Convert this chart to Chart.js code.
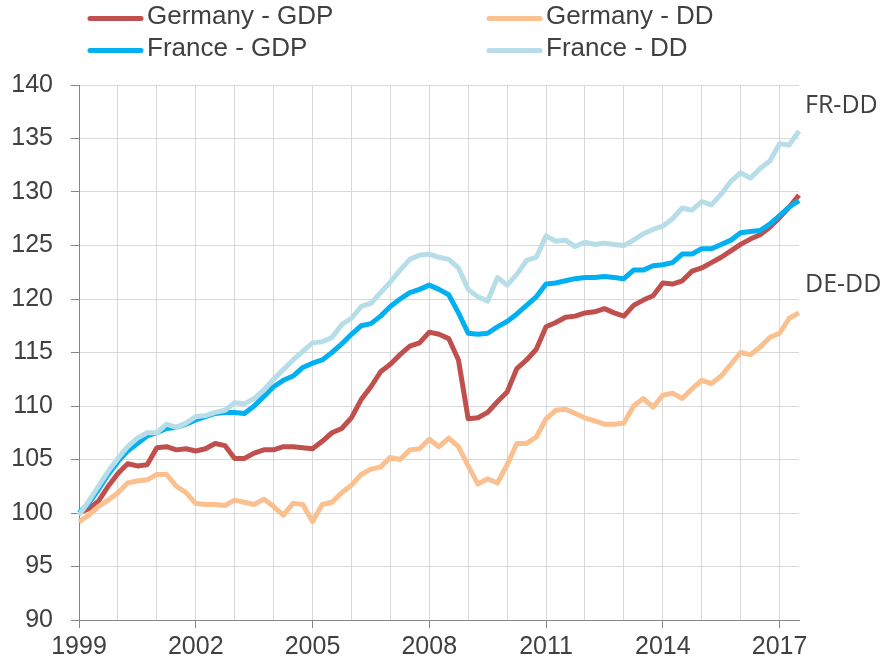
<!DOCTYPE html>
<html>
<head>
<meta charset="utf-8">
<script src="https://cdn.jsdelivr.net/npm/chart.js@4"></script>
<style>
  body { margin: 0; background: #fff; }
  canvas { display: block; }
</style>
</head>
<body>
<canvas id="chart" width="883" height="665"></canvas>
<script>
// quarterly index, 1999Q1 = 100
const quarters = [];
for (let y = 1999; y <= 2017; y++) {
  for (let q = 1; q <= 4; q++) {
    if (y === 2017 && q > 3) break;
    quarters.push(y + "Q" + q);
  }
}

const germanyGDP = [
  100.0, 100.4, 101.1, 102.5, 103.7, 104.6, 104.4, 104.5, 106.1, 106.2,
  105.9, 106.0, 105.8, 106.0, 106.5, 106.3, 105.1, 105.1, 105.6, 105.9,
  105.9, 106.2, 106.2, 106.1, 106.0, 106.7, 107.5, 107.9, 108.9, 110.6,
  111.8, 113.2, 113.9, 114.8, 115.6, 115.9, 116.9, 116.7, 116.3, 114.3,
  108.8, 108.9, 109.4, 110.4, 111.3, 113.5, 114.3, 115.3, 117.4, 117.8,
  118.3, 118.4, 118.7, 118.8, 119.1, 118.7, 118.4, 119.4, 119.9, 120.3,
  121.5, 121.4, 121.7, 122.6, 122.9, 123.4, 123.9, 124.5, 125.1, 125.6,
  126.0, 126.7, 127.6, 128.6, 129.7
];

const germanyDD = [
  99.2, 99.8, 100.6, 101.2, 101.9, 102.8, 103.0, 103.1, 103.6, 103.6,
  102.5, 101.9, 100.9, 100.8, 100.8, 100.7, 101.2, 101.0, 100.8, 101.3,
  100.6, 99.8, 100.9, 100.8, 99.2, 100.8, 101.0, 101.9, 102.6, 103.6,
  104.1, 104.3, 105.2, 105.0, 105.9, 106.0, 106.9, 106.2, 107.0, 106.2,
  104.4, 102.7, 103.2, 102.8, 104.5, 106.5, 106.5, 107.1, 108.8, 109.6,
  109.7, 109.3, 108.9, 108.6, 108.3, 108.3, 108.4, 110.0, 110.7, 109.9,
  111.0, 111.2, 110.7, 111.6, 112.4, 112.1, 112.8, 113.9, 115.0, 114.8,
  115.5, 116.4, 116.8, 118.2, 118.7
];

const franceGDP = [
  100.0, 100.9, 102.2, 103.6, 104.8, 105.8, 106.5, 107.2, 107.5, 107.9,
  108.0, 108.3, 108.7, 109.0, 109.3, 109.4, 109.4, 109.3, 110.0, 110.9,
  111.8, 112.4, 112.8, 113.6, 114.0, 114.3, 115.0, 115.8, 116.7, 117.5,
  117.7, 118.4, 119.3, 120.0, 120.6, 120.9, 121.3, 120.9, 120.4, 118.7,
  116.8, 116.7, 116.8, 117.4, 117.9, 118.6, 119.4, 120.2, 121.4, 121.5,
  121.7, 121.9, 122.0, 122.0, 122.1, 122.0, 121.9, 122.7, 122.7, 123.1,
  123.2, 123.4, 124.2, 124.2, 124.7, 124.7, 125.1, 125.5, 126.2, 126.3,
  126.4, 127.0, 127.8, 128.6, 129.2
];

const franceDD = [
  99.8, 101.1, 102.5, 103.9, 105.1, 106.2, 107.0, 107.5, 107.5, 108.3,
  108.0, 108.4, 109.0, 109.1, 109.4, 109.6, 110.3, 110.2, 110.7, 111.5,
  112.5, 113.4, 114.3, 115.1, 115.9, 116.0, 116.4, 117.6, 118.2, 119.3,
  119.6, 120.6, 121.6, 122.7, 123.7, 124.1, 124.2, 123.9, 123.7, 122.9,
  120.9, 120.2, 119.8, 122.0, 121.3, 122.3, 123.6, 123.9, 125.9, 125.4,
  125.5, 124.9, 125.3, 125.1, 125.2, 125.1, 125.0, 125.5, 126.1, 126.5,
  126.8, 127.5, 128.5, 128.3, 129.1, 128.8, 129.8, 131.0, 131.8, 131.3,
  132.2, 132.9, 134.5, 134.4, 135.7
];

// end-of-line labels and the index value their baseline sits at
const endLabels = ["FR-DD", "DE-DD"];
const endLabelValues = [137.4, 120.7];

const FONT = '"Liberation Sans", Arial, sans-serif';
const TEXT = "#404040";
const AXIS = "#868686";
const GRID = "#D9D9D9";

// two-column legend drawn on top of the chart
const legendPlugin = {
  id: "topLegend",
  afterDraw(chart) {
    const ctx = chart.ctx;
    const cols = [88, 487];
    const rows = [17, 49];
    ctx.save();
    ctx.font = "26px " + FONT;
    ctx.textBaseline = "middle";
    ctx.fillStyle = TEXT;
    chart.data.datasets.forEach((ds, i) => {
      const x = cols[i % 2];
      const y = rows[Math.floor(i / 2)];
      ctx.strokeStyle = ds.borderColor;
      ctx.lineWidth = 5;
      ctx.lineCap = "round";
      ctx.beginPath();
      ctx.moveTo(x + 2, y + 1.5);
      ctx.lineTo(x + 53, y + 1.5);
      ctx.stroke();
      ctx.fillText(ds.label, x + 59, y);
    });
    ctx.restore();
  }
};

const endLabelPlugin = {
  id: "endLabels",
  afterDraw(chart) {
    const ctx = chart.ctx;
    const yScale = chart.scales.y;
    ctx.save();
    ctx.font = '25px "Open Sans", sans-serif';
    ctx.textBaseline = "alphabetic";
    ctx.fillStyle = TEXT;
    endLabels.forEach((t, i) => {
      ctx.fillText(t, chart.chartArea.right + 6, yScale.getPixelForValue(endLabelValues[i]));
    });
    ctx.restore();
  }
};

new Chart(document.getElementById("chart"), {
  type: "line",
  data: {
    labels: quarters,
    datasets: [
      { label: "Germany - GDP", data: germanyGDP, borderColor: "#C0504D", order: 4 },
      { label: "Germany - DD", data: germanyDD, borderColor: "#FAC090", order: 3 },
      { label: "France - GDP", data: franceGDP, borderColor: "#00B0F0", order: 2 },
      { label: "France - DD", data: franceDD, borderColor: "#B7DEE8", order: 1 }
    ]
  },
  options: {
    responsive: false,
    animation: false,
    devicePixelRatio: 1,
    layout: {
      padding: { top: 85, right: 84, left: 0, bottom: 0 }
    },
    elements: {
      line: { borderWidth: 5, tension: 0, borderJoinStyle: "round", fill: false },
      point: { radius: 0, hoverRadius: 0 }
    },
    plugins: {
      legend: { display: false },
      tooltip: { enabled: false }
    },
    scales: {
      x: {
        type: "category",
        offset: false,
        afterFit(scale) { scale.height = 45; },
        grid: {
          color: (c) => (c.index % 4 === 0 ? GRID : "transparent"),
          tickColor: (c) => (c.index % 12 === 0 ? AXIS : "transparent"),
          tickLength: 8,
          lineWidth: 1
        },
        border: { color: AXIS, width: 1 },
        ticks: {
          autoSkip: false,
          maxRotation: 0,
          minRotation: 0,
          padding: 4,
          color: TEXT,
          font: { family: FONT, size: 25 },
          callback: function (value, index) {
            return index % 12 === 0 ? this.getLabelForValue(value).slice(0, 4) : "";
          }
        }
      },
      y: {
        min: 90,
        max: 140,
        afterFit(scale) { scale.width = 79; },
        grid: { color: GRID, tickColor: AXIS, tickLength: 8, lineWidth: 1 },
        border: { color: AXIS, width: 1 },
        ticks: {
          stepSize: 5,
          padding: 18,
          color: TEXT,
          font: { family: FONT, size: 25 }
        }
      }
    }
  },
  plugins: [legendPlugin, endLabelPlugin]
});
</script>
</body>
</html>
